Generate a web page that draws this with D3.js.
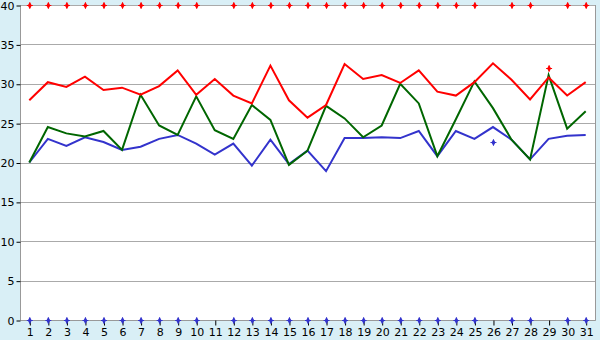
<!DOCTYPE html>
<html>
<head>
<meta charset="utf-8">
<script src="https://cdn.jsdelivr.net/npm/d3@7"></script>
<style>
  body { margin: 0; background: #d9eff6; }
  svg { display: block; }
  .tick-label { font-family: "DejaVu Sans", Verdana, sans-serif; font-size: 11px; fill: #000; }
</style>
</head>
<body>
<div class="chart"></div>
<script>
const days = d3.range(1, 32);
const yTicks = [0, 5, 10, 15, 20, 25, 30, 35, 40];

// red line
const redValues = [27.9, 30.2, 29.6, 30.9, 29.2, 29.5, 28.6, 29.7, 31.7, 28.6,
    30.6, 28.5, 27.5, 32.3, 27.9, 25.7, 27.3, 32.5, 30.6, 31.1,
    30.1, 31.7, 29.0, 28.5, 30.2, 32.6, 30.5, 28.0, 30.8, 28.5, 30.2];
// green line
const greenValues = [20.0, 24.5, 23.7, 23.3, 24.0, 21.6, 28.6, 24.7, 23.5, 28.4,
    24.1, 23.0, 27.3, 25.4, 19.7, 21.5, 27.2, 25.6, 23.2, 24.7,
    30.0, 27.5, 20.8, 25.5, 30.3, 26.9, 22.9, 20.4, 31.1, 24.3, 26.5];
// blue line
const blueValues = [20.0, 23.0, 22.1, 23.2, 22.6, 21.6, 22.0, 23.0, 23.5, 22.4,
    21.0, 22.4, 19.6, 22.9, 19.8, 21.5, 18.9, 23.1, 23.1, 23.2,
    23.1, 24.0, 20.8, 24.0, 23.0, 24.5, 22.9, 20.4, 23.0, 23.4, 23.5];
// marker rows (null = no marker that day)
const redMarks = [40, 40, 40, 40, 40, 40, 40, 40, 40, 40,
    null, 40, 40, 40, 40, 40, 40, 40, 40, 40,
    40, 40, 40, 40, 40, null, 40, 40, 32.0, 40, 40];
const blueMarks = [0, 0, 0, 0, 0, 0, 0, 0, 0, 0,
    null, 0, 0, 0, 0, 0, 0, 0, 0, 0,
    0, 0, 0, 0, 0, 22.6, 0, 0, null, 0, 0];

const width = 600, height = 340;
const plotLeft = 20.5, plotRight = 595.5, plotTop = 5, plotBottom = 320;

const svg = d3.select(".chart").append("svg")
    .attr("width", width)
    .attr("height", height);

const x = d3.scalePoint().domain(days).range([29.3, 585.7]);
const y = d3.scaleLinear().domain([0, 40]).range([plotBottom, plotTop]);

// white plot area
svg.append("rect")
    .attr("x", plotLeft).attr("y", plotTop)
    .attr("width", plotRight - plotLeft).attr("height", plotBottom - plotTop)
    .attr("fill", "#fff");

// gridlines
svg.append("g")
    .selectAll("line")
    .data(yTicks)
    .join("line")
    .attr("x1", plotLeft).attr("x2", plotRight)
    .attr("y1", d => Math.round(y(d)) + 0.5)
    .attr("y2", d => Math.round(y(d)) + 0.5)
    .attr("stroke", "#aaaaaa");

// frame
svg.append("path")
    .attr("d", `M${plotLeft},${plotTop} V${plotBottom + 0.5} H${plotRight} V${plotTop}`)
    .attr("fill", "none")
    .attr("stroke", "#999999");

// y axis
const yAxis = svg.append("g")
    .attr("transform", `translate(${plotLeft},0.5)`)
    .call(d3.axisLeft(y).tickValues(yTicks).tickSize(4).tickPadding(2));
yAxis.select(".domain").remove();
yAxis.selectAll(".tick line").attr("stroke", "#000");
yAxis.selectAll("text").attr("class", "tick-label").attr("font-size", null).attr("font-family", null);
yAxis.attr("font-size", null).attr("font-family", null);

// x axis
const xAxis = svg.append("g")
    .attr("transform", `translate(0.5,${plotBottom + 0.5})`)
    .call(d3.axisBottom(x).tickSize(5).tickPadding(3));
xAxis.select(".domain").remove();
xAxis.selectAll(".tick line").attr("stroke", "#000");
xAxis.selectAll("text").attr("class", "tick-label");
xAxis.attr("font-size", null).attr("font-family", null);

// lines
const line = d3.line().x((d, i) => x(days[i])).y(d => y(d));
const series = [
    {values: blueValues, color: "#3333cc"},
    {values: greenValues, color: "#006600"},
    {values: redValues, color: "#ff0000"}
];
svg.append("g")
    .selectAll("path")
    .data(series)
    .join("path")
    .attr("d", d => line(d.values))
    .attr("fill", "none")
    .attr("stroke", d => d.color)
    .attr("stroke-width", 2)
    .attr("stroke-linejoin", "miter");

// markers
function drawMarks(values, color) {
    const pts = values.map((v, i) => ({day: days[i], v})).filter(d => d.v !== null);
    const g = svg.append("g");
    g.selectAll("path.diamond")
        .data(pts)
        .join("path")
        .attr("class", "diamond")
        .attr("transform", d => `translate(${x(d.day) + 0.5},${y(d.v) + 0.5})`)
        .attr("d", d3.symbol(d3.symbolDiamond, 14))
        .attr("fill", color);
    g.selectAll("path.cross")
        .data(pts)
        .join("path")
        .attr("class", "cross")
        .attr("transform", d => `translate(${x(d.day) + 0.5},${y(d.v) + 0.5})`)
        .attr("d", "M-3,0H3M0,-3V3")
        .attr("stroke", color)
        .attr("stroke-width", 1);
}
drawMarks(redMarks, "#ff0000");
drawMarks(blueMarks, "#3333cc");
</script>
</body>
</html>
